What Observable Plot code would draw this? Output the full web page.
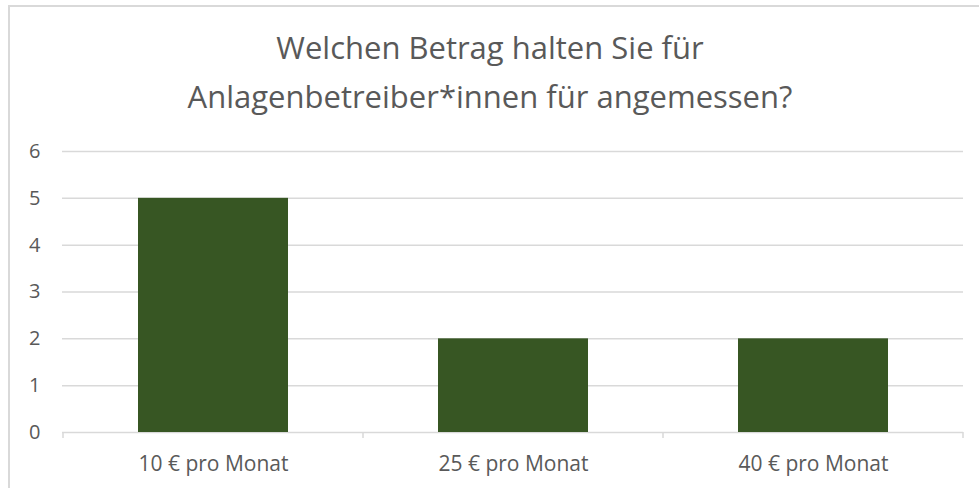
<!DOCTYPE html>
<html>
<head>
<meta charset="utf-8">
<script src="https://cdn.jsdelivr.net/npm/d3@7"></script>
<script src="https://cdn.jsdelivr.net/npm/@observablehq/plot@0.6"></script>
<style>
  html, body { margin: 0; padding: 0; background: #fff; }
  #wrap { position: relative; width: 979px; height: 488px; overflow: hidden; background: #fff; }
  #border { position: absolute; left: 8px; top: 5px; width: 1000px; height: 520px; border: 2px solid #D9D9D9; box-sizing: border-box; }
  #title { position: absolute; left: 0; top: 23px; width: 980px; text-align: center;
    font-family: "Open Sans", sans-serif; font-size: 31px; line-height: 49px; color: #595959; }
  #chart { position: absolute; left: 0; top: 130px; }
</style>
</head>
<body>
<div id="wrap">
  <div id="border"></div>
  <div id="title">Welchen Betrag halten Sie für<br>Anlagenbetreiber*innen für angemessen?</div>
  <div id="chart"></div>
</div>
<script>
const categories = ["10 € pro Monat", "25 € pro Monat", "40 € pro Monat"];
const values = [5, 2, 2];
const yTicks = [0, 1, 2, 3, 4, 5, 6];

const data = categories.map((c, i) => ({category: c, value: values[i]}));

function boundaryTicks(index, scales, values, dimensions) {
  const x = scales.x, y = scales.y;
  const step = x(categories[1]) - x(categories[0]);
  const gap = step - x.bandwidth();
  const xs = categories.map(c => x(c) - gap / 2);
  xs.push(x(categories[categories.length - 1]) + x.bandwidth() + gap / 2);
  const g = d3.create("svg:g");
  const y0 = y(0);
  g.selectAll("line").data(xs).join("line")
    .attr("x1", d => d).attr("x2", d => d)
    .attr("y1", y0).attr("y2", y0 + 6)
    .attr("stroke", "#D9D9D9").attr("stroke-width", 1.5);
  return g.node();
}

const chart = Plot.plot({
  width: 979,
  height: 358,
  marginTop: 21,
  marginBottom: 56,
  marginLeft: 62,
  marginRight: 16,
  style: {fontFamily: "'Open Sans', sans-serif", fontSize: "20px", color: "#595959", background: "transparent"},
  x: {domain: categories, paddingInner: 0.5, paddingOuter: 0.25, label: null},
  y: {domain: [0, 6], label: null},
  marks: [
    Plot.ruleY(yTicks, {stroke: "#D9D9D9", strokeWidth: 1.5}),
    Plot.barY(data, {x: "category", y: "value", fill: "#375623"}),
    boundaryTicks,
    Plot.axisY({ticks: yTicks, tickFormat: d3.format("d"), tickSize: 0, tickPadding: 22, fill: "#595959", fontSize: 20}),
    Plot.axisX({tickSize: 0, tickPadding: 24, fill: "#595959", fontSize: 21})
  ]
});
document.getElementById("chart").appendChild(chart);
</script>
</body>
</html>
